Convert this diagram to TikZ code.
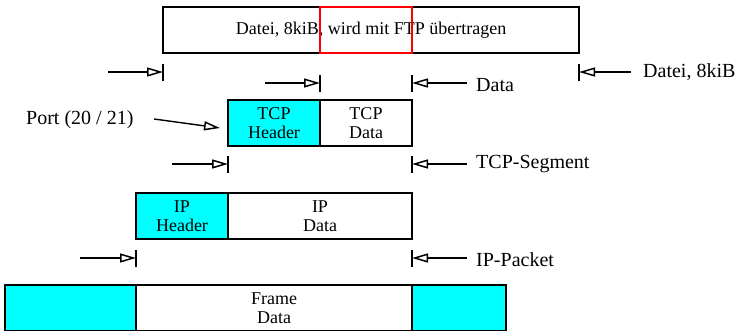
\documentclass[tikz,border=0pt]{standalone}
\usepackage{fontspec}
\setmainfont{Liberation Serif}
\usetikzlibrary{arrows.meta}
\definecolor{hdrcyan}{RGB}{0,255,255}
\tikzset{
  box/.style={draw=black, line width=1.4pt, minimum height=46pt, inner sep=0pt, align=center,
    font=\fontsize{18}{18.5}\selectfont},
  hdr/.style={box, fill=hdrcyan},
  lbl/.style={anchor=west, inner sep=0pt, font=\fontsize{20}{22}\selectfont},
  tick/.style={line width=1.4pt},
  dimarrow/.style={line width=1.4pt, -{Triangle[open, length=16pt, width=9pt, line width=1.5pt]}},
}
\begin{document}
\begin{tikzpicture}[x=1pt, y=-1pt]
\useasboundingbox (0,0) rectangle (739,330);
\clip (0,0) rectangle (739,330);
% top file box
\node[box, minimum width=416pt] (file) at (371,30) {Datei, 8kiB, wird mit FTP übertragen};
\node[draw=red, line width=1.4pt, minimum width=92pt, minimum height=46pt, inner sep=0pt] (sel) at (366,30) {};
% row 1 dimension
\coordinate (t1a) at (163,64); \coordinate (t1b) at (163,81);
\coordinate (t1c) at (579,64); \coordinate (t1d) at (579,81);
\draw[tick] (t1a) -- (t1b);
\draw[tick] (t1c) -- (t1d);
\coordinate (a1s) at (108,72); \coordinate (a1e) at (163,72);
\coordinate (b1s) at (631,72); \coordinate (b1e) at (579,72);
\draw[dimarrow] (a1s) -- (a1e);
\draw[dimarrow] (b1s) -- (b1e);
\node[lbl] (lfile) at (643,72) {Datei, 8kiB};
% row 2
\coordinate (t2a) at (320,75); \coordinate (t2b) at (320,92);
\coordinate (t2c) at (412,75); \coordinate (t2d) at (412,92);
\draw[tick] (t2a) -- (t2b);
\draw[tick] (t2c) -- (t2d);
\coordinate (a2s) at (265,83); \coordinate (a2e) at (320,83);
\coordinate (b2s) at (467,83); \coordinate (b2e) at (412,83);
\draw[dimarrow] (a2s) -- (a2e);
\draw[dimarrow] (b2s) -- (b2e);
\node[lbl] (ldata) at (476,85) {Data};
% TCP segment
\node[hdr, minimum width=92pt] (tcph) at (274,123) {TCP\\Header};
\node[box, minimum width=92pt] (tcpd) at (366,123) {TCP\\Data};
\node[lbl] (lport) at (26,120) {Port (20 / 21)};
\coordinate (ps) at (154,119); \coordinate (pe) at (220,128);
\draw[dimarrow] (ps) -- (pe);
% row 3
\coordinate (t3a) at (228,156); \coordinate (t3b) at (228,173);
\coordinate (t3c) at (412,156); \coordinate (t3d) at (412,173);
\draw[tick] (t3a) -- (t3b);
\draw[tick] (t3c) -- (t3d);
\coordinate (a3s) at (172,164); \coordinate (a3e) at (228,164);
\coordinate (b3s) at (467,164); \coordinate (b3e) at (412,164);
\draw[dimarrow] (a3s) -- (a3e);
\draw[dimarrow] (b3s) -- (b3e);
\node[lbl] (ltcp) at (476,164) {TCP-Segment};
% IP packet
\node[hdr, minimum width=92pt] (iph) at (182,216) {IP\\Header};
\node[box, minimum width=184pt] (ipd) at (320,216) {IP\\Data};
% row 4
\coordinate (t4a) at (136,250); \coordinate (t4b) at (136,267);
\coordinate (t4c) at (412,250); \coordinate (t4d) at (412,267);
\draw[tick] (t4a) -- (t4b);
\draw[tick] (t4c) -- (t4d);
\coordinate (a4s) at (80,258); \coordinate (a4e) at (136,258);
\coordinate (b4s) at (467,258); \coordinate (b4e) at (412,258);
\draw[dimarrow] (a4s) -- (a4e);
\draw[dimarrow] (b4s) -- (b4e);
\node[lbl] (lip) at (476,260) {IP-Packet};
% frame
\node[hdr, minimum width=131pt] (fh) at (70.5,308) {};
\node[box, minimum width=276pt] (fd) at (274,308) {Frame\\Data};
\node[hdr, minimum width=94pt] (ft) at (459,308) {};
\end{tikzpicture}
\end{document}
